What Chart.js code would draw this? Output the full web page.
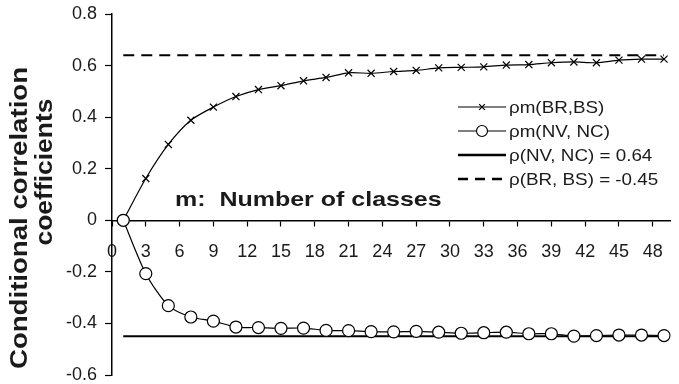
<!DOCTYPE html>
<html>
<head>
<meta charset="utf-8">
<script src="https://cdn.jsdelivr.net/npm/chart.js@4/dist/chart.umd.min.js"></script>
<style>
  html, body { margin: 0; padding: 0; background: #fff; }
  #wrap { width: 679px; height: 384px; position: relative; }
</style>
</head>
<body>
<div id="wrap"><canvas id="chart" width="679" height="384"></canvas></div>
<script>
// Number of classes m (odd values only)
const classCounts = [1, 3, 5, 7, 9, 11, 13, 15, 17, 19, 21, 23, 25,
                     27, 29, 31, 33, 35, 37, 39, 41, 43, 45, 47, 49];

// Conditional correlation ρm(BR,BS)
const rhoBRBS = [0.000, 0.162, 0.294, 0.388, 0.439, 0.480, 0.507, 0.522, 0.541,
                 0.554, 0.572, 0.570, 0.577, 0.581, 0.591, 0.593, 0.595, 0.602,
                 0.604, 0.611, 0.614, 0.611, 0.621, 0.625, 0.625];

// Conditional correlation ρm(NV, NC)
const rhoNVNC = [0.000, -0.207, -0.331, -0.375, -0.391, -0.414, -0.416, -0.419, -0.418,
                 -0.427, -0.428, -0.432, -0.433, -0.431, -0.434, -0.438, -0.436, -0.434,
                 -0.440, -0.440, -0.449, -0.447, -0.445, -0.445, -0.447];

// Unconditional levels
const levelUpper = 0.64;
const levelLower = -0.45;

// Series names as printed in the key
const seriesNames = ['ρm(BR,BS)', 'ρm(NV, NC)', 'ρ(NV, NC) = 0.64', 'ρ(BR, BS) = -0.45'];

// Axis ticks
const xTickValues = [0, 3, 6, 9, 12, 15, 18, 21, 24, 27, 30, 33, 36, 39, 42, 45, 48];
const yTickValues = [-0.6, -0.4, -0.2, 0, 0.2, 0.4, 0.6, 0.8];
const yTickLabels = ['-0.6', '-0.4', '-0.2', '0', '0.2', '0.4', '0.6', '0.8'];

const axisTitleLines = ['Conditional correlation', 'coefficients'];
const annotationText = 'm:  Number of classes';

const INK = '#000';
const TEXT = '#1a1a1a';
const FONT = "'Liberation Sans', Arial, Helvetica, sans-serif";

const toPoints = (xs, ys) => xs.map((x, i) => ({ x: x, y: ys[i] }));
const levelPoints = (v) => [
  { x: classCounts[0], y: v },
  { x: classCounts[classCounts.length - 1], y: v }
];

// Draws a horizontally stretched text run
function stretchedText(ctx, text, x, y, font, sx, align, rotate) {
  ctx.save();
  ctx.translate(x, y);
  if (rotate) ctx.rotate(rotate);
  ctx.scale(sx, 1);
  ctx.font = font;
  ctx.fillStyle = TEXT;
  ctx.textAlign = align;
  ctx.textBaseline = rotate ? 'alphabetic' : 'middle';
  ctx.fillText(text, 0, 0);
  ctx.restore();
}

// Key, axis title and in-plot caption
const decorations = {
  id: 'decorations',
  afterDraw(chart) {
    const ctx = chart.ctx;
    const ds = chart.data.datasets;
    const keyOrder = [0, 1, 2, 3];
    const x0 = 458, x1 = 506, rowY = [107, 131, 155, 179];

    keyOrder.forEach((di, row) => {
      const d = ds[di];
      const y = rowY[row];
      const cx = (x0 + x1) / 2;
      ctx.save();
      ctx.strokeStyle = d.borderColor;
      ctx.lineWidth = d.keyLineWidth || d.borderWidth;
      ctx.setLineDash(d.keyDash || []);
      ctx.beginPath();
      ctx.moveTo(x0, y);
      ctx.lineTo(x1, y);
      ctx.stroke();
      ctx.setLineDash([]);
      if (d.pointRadius > 0) {
        const r = d.keyPointRadius || d.pointRadius;
        ctx.fillStyle = d.pointBackgroundColor;
        ctx.strokeStyle = d.pointBorderColor;
        ctx.lineWidth = d.pointBorderWidth;
        ctx.beginPath();
        if (d.pointStyle === 'circle') {
          ctx.arc(cx, y, r, 0, Math.PI * 2);
          ctx.fill();
          ctx.stroke();
        } else {
          const k = r * Math.SQRT1_2;
          ctx.moveTo(cx - k, y - k); ctx.lineTo(cx + k, y + k);
          ctx.moveTo(cx + k, y - k); ctx.lineTo(cx - k, y + k);
          ctx.stroke();
        }
      }
      ctx.restore();
      stretchedText(ctx, d.label, 509, y + 1, '16.5px ' + FONT, 1.14, 'left', 0);
    });

    // caption inside the plot
    stretchedText(ctx, annotationText, 175, 200, 'bold 21px ' + FONT, 1.19, 'left', 0);

    // vertical axis title, two lines
    stretchedText(ctx, axisTitleLines[0], 27, 218, 'bold 23px ' + FONT, 1.2, 'center', -Math.PI / 2);
    stretchedText(ctx, axisTitleLines[1], 52, 172, 'bold 23px ' + FONT, 1.15, 'center', -Math.PI / 2);
  }
};

new Chart(document.getElementById('chart'), {
  type: 'line',
  data: {
    datasets: [
      {
        label: seriesNames[0],
        data: toPoints(classCounts, rhoBRBS),
        borderColor: INK,
        borderWidth: 1.2,
        pointStyle: 'crossRot',
        pointRadius: 5,
        keyPointRadius: 4,
        pointBorderWidth: 1.2,
        pointBorderColor: INK,
        pointBackgroundColor: INK,
        tension: 0.25,
        order: 1
      },
      {
        label: seriesNames[1],
        data: toPoints(classCounts, rhoNVNC),
        borderColor: INK,
        borderWidth: 1.2,
        pointStyle: 'circle',
        pointRadius: 6,
        keyPointRadius: 5.5,
        pointBorderWidth: 1.2,
        pointBorderColor: INK,
        pointBackgroundColor: '#fff',
        tension: 0.25,
        order: 0
      },
      {
        label: seriesNames[2],
        data: levelPoints(levelLower),
        borderColor: INK,
        borderWidth: 2,
        keyLineWidth: 2.6,
        pointRadius: 0,
        order: 2
      },
      {
        label: seriesNames[3],
        data: levelPoints(levelUpper),
        borderColor: INK,
        borderWidth: 2,
        borderDash: [11, 7],
        keyDash: [10, 7],
        keyLineWidth: 2.4,
        pointRadius: 0,
        order: 3
      }
    ]
  },
  options: {
    responsive: false,
    animation: false,
    events: [],
    layout: { padding: { top: 14, right: 0, bottom: 9, left: 0 } },
    plugins: {
      legend: { display: false },
      tooltip: { enabled: false },
      title: { display: false }
    },
    scales: {
      x: {
        type: 'linear',
        min: 0,
        max: 49.6,
        position: { y: 0 },
        afterBuildTicks: (scale) => { scale.ticks = xTickValues.map(v => ({ value: v })); },
        afterFit: (scale) => { scale.height = 0; },
        grid: {
          drawOnChartArea: false,
          drawTicks: true,
          tickLength: 5,
          tickColor: INK,
          tickWidth: 1.2
        },
        border: { display: true, color: INK, width: 1.5 },
        ticks: {
          font: { family: FONT, size: 18 },
          color: TEXT,
          padding: 16,
          maxRotation: 0,
          autoSkip: false
        }
      },
      y: {
        type: 'linear',
        min: -0.6,
        max: 0.8,
        position: 'left',
        afterBuildTicks: (scale) => { scale.ticks = yTickValues.map(v => ({ value: v })); },
        afterFit: (scale) => {
          scale.width = 112;
          scale.paddingTop = 0;
          scale.paddingBottom = 0;
        },
        grid: {
          drawOnChartArea: false,
          drawTicks: true,
          tickLength: 7,
          tickColor: INK,
          tickWidth: 1.2
        },
        border: { display: true, color: INK, width: 1.5 },
        ticks: {
          font: { family: FONT, size: 18 },
          color: TEXT,
          padding: 8,
          autoSkip: false,
          callback: (value, index) => yTickLabels[index]
        }
      }
    }
  },
  plugins: [decorations]
});
</script>
</body>
</html>
